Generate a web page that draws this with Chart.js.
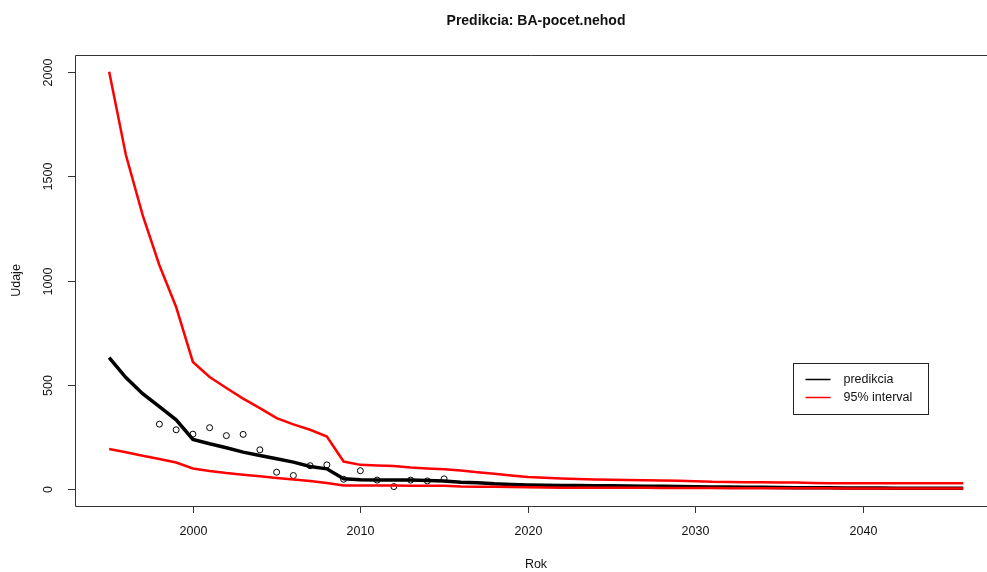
<!DOCTYPE html>
<html>
<head>
<meta charset="utf-8">
<title>Predikcia: BA-pocet.nehod</title>
<script src="https://cdn.jsdelivr.net/npm/chart.js@4.4.1/dist/chart.umd.min.js"></script>
<style>
  html, body { margin: 0; padding: 0; background: #fff; overflow: hidden; }
  #wrap { position: absolute; left: 0; top: 0; width: 987px; height: 572px; }
</style>
</head>
<body>
<div id="wrap"><canvas id="chart" width="987" height="572"></canvas></div>
<script>
// Years covered by the prediction and its interval
const years = []
for (let y = 1995; y <= 2046; y++) years.push(y)

// predikcia (black line)
const prediction = [
  631, 535, 458, 396, 333, 239, 218, 199, 178, 162,
  146, 130, 109, 98, 50, 46, 45, 45, 44, 42,
  40, 34, 31, 26, 23, 21, 19, 18, 18, 17,
  17, 16, 15, 14, 13, 12, 11, 11, 10, 10,
  9, 8, 7, 7, 6, 6, 6, 5, 5, 5,
  5, 5
]

// 95% interval, upper and lower (red lines)
const upper = [
  2000, 1601, 1313, 1073, 873, 610, 538, 485, 434, 389,
  341, 311, 285, 253, 133, 117, 114, 111, 104, 100,
  96, 90, 82, 74, 66, 59, 55, 52, 49, 47,
  46, 45, 43, 42, 41, 39, 36, 35, 34, 34,
  33, 32, 30, 29, 29, 29, 29, 29, 29, 29,
  29, 29
]
const lower = [
  193, 177, 161, 145, 128, 100, 88, 78, 70, 62,
  54, 47, 40, 30, 18, 18, 18, 18, 17, 17,
  17, 13, 12, 12, 11, 10, 9, 8, 8, 8,
  7, 7, 7, 6, 6, 6, 6, 5, 5, 5,
  5, 5, 5, 5, 4, 4, 4, 4, 4, 4,
  4, 4
]

// observed values (hollow circles)
const obsYears = [1998, 1999, 2000, 2001, 2002, 2003, 2004, 2005, 2006, 2007, 2008, 2009, 2010, 2011, 2012, 2013, 2014, 2015]
const observed = [312, 285, 264, 295, 257, 263, 189, 82, 66, 113, 117, 48, 89, 44, 13, 44, 40, 50]

// axis ticks
const xTicks = [2000, 2010, 2020, 2030, 2040]
const yTicks = [0, 500, 1000, 1500, 2000]

const toPoints = (xs, ys) => xs.map((x, i) => ({ x: x, y: ys[i] }))

const FONT = '"Liberation Sans", Arial, sans-serif'

// R-style frame, ticks, labels, title and legend
// (the plot frame runs past the right edge of the picture, so its right side is not drawn)
const baseGraphics = {
  id: 'baseGraphics',
  afterDraw(chart) {
    const ctx = chart.ctx
    const area = chart.chartArea
    const xs = chart.scales.x
    const ys = chart.scales.y
    const midX = 536
    ctx.save()
    ctx.strokeStyle = '#333'
    ctx.lineWidth = 1
    ctx.beginPath()
    ctx.moveTo(area.right + 5, area.top + 0.5)
    ctx.lineTo(area.left + 0.5, area.top + 0.5)
    ctx.lineTo(area.left + 0.5, area.bottom + 0.5)
    ctx.lineTo(area.right + 5, area.bottom + 0.5)
    ctx.stroke()

    ctx.fillStyle = '#111'
    ctx.font = '12.5px ' + FONT
    ctx.textAlign = 'center'
    ctx.textBaseline = 'middle'
    xTicks.forEach(v => {
      const px = Math.round(xs.getPixelForValue(v)) + 0.5
      ctx.beginPath()
      ctx.moveTo(px, area.bottom)
      ctx.lineTo(px, area.bottom + 7)
      ctx.stroke()
      ctx.fillText(String(v), px, area.bottom + 26)
    })
    yTicks.forEach(v => {
      const py = Math.round(ys.getPixelForValue(v)) + 0.5
      ctx.beginPath()
      ctx.moveTo(area.left, py)
      ctx.lineTo(area.left - 7, py)
      ctx.stroke()
      ctx.save()
      ctx.translate(area.left - 26, py)
      ctx.rotate(-Math.PI / 2)
      ctx.fillText(String(v), 0, 0)
      ctx.restore()
    })

    // axis titles
    ctx.fillText('Rok', midX, 565)
    ctx.save()
    ctx.translate(17, (area.top + area.bottom) / 2)
    ctx.rotate(-Math.PI / 2)
    ctx.fillText('Udaje', 0, 0)
    ctx.restore()

    // title
    ctx.font = 'bold 14px ' + FONT
    ctx.fillText('Predikcia: BA-pocet.nehod', midX, 21)

    // legend
    const lx = 793.5, ly = 363.5
    ctx.strokeStyle = '#222'
    ctx.strokeRect(lx, ly, 135, 51)
    ctx.font = '12.5px ' + FONT
    ctx.textAlign = 'left'
    const items = [['predikcia', '#000'], ['95% interval', '#ff0000']]
    items.forEach((it, i) => {
      const yy = ly + 16 + i * 18
      ctx.strokeStyle = it[1]
      ctx.lineWidth = 1.5
      ctx.beginPath()
      ctx.moveTo(lx + 12, yy)
      ctx.lineTo(lx + 37, yy)
      ctx.stroke()
      ctx.fillStyle = '#111'
      ctx.fillText(it[0], lx + 50, yy)
    })
    ctx.restore()
  }
}

new Chart(document.getElementById('chart'), {
  type: 'line',
  data: {
    datasets: [
      {
        label: '95% interval',
        data: toPoints(years, upper),
        borderColor: '#ff0000',
        borderWidth: 2.5,
        pointRadius: 0,
        tension: 0,
        fill: false,
        order: 0
      },
      {
        label: '95% interval lower',
        data: toPoints(years, lower),
        borderColor: '#ff0000',
        borderWidth: 2.5,
        pointRadius: 0,
        tension: 0,
        fill: false,
        order: 1
      },
      {
        label: 'predikcia',
        data: toPoints(years, prediction),
        borderColor: '#000',
        borderWidth: 3.5,
        pointRadius: 0,
        tension: 0,
        fill: false,
        order: 2
      },
      {
        label: 'data',
        data: toPoints(obsYears, observed),
        showLine: false,
        pointRadius: 3,
        pointBorderWidth: 1,
        pointBorderColor: '#000',
        pointBackgroundColor: 'rgba(0,0,0,0)',
        order: 3
      }
    ]
  },
  options: {
    responsive: false,
    animation: false,
    devicePixelRatio: 1,
    layout: { autoPadding: false, padding: { left: 75, top: 55, right: 0, bottom: 66 } },
    plugins: {
      legend: { display: false },
      title: { display: false },
      tooltip: { enabled: false }
    },
    scales: {
      x: { type: 'linear', min: 1992.96, max: 2047.42, display: false },
      y: { type: 'linear', min: -80, max: 2080, display: false }
    }
  },
  plugins: [baseGraphics]
})
</script>
</body>
</html>
